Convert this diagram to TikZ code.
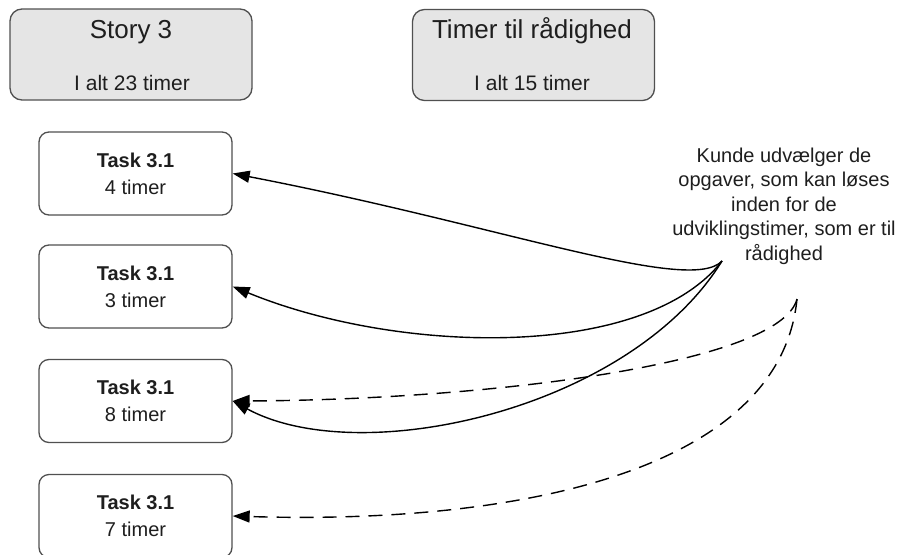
\documentclass[tikz,border=0pt]{standalone}
\usepackage{fontspec}
\setmainfont{Liberation Sans}
\usetikzlibrary{arrows.meta}
\definecolor{headfill}{RGB}{229,229,229}
\definecolor{boxline}{RGB}{80,80,80}
\definecolor{txt}{RGB}{30,30,30}
\begin{document}
\begin{tikzpicture}[x=1pt,y=-1pt,
  headbox/.style={draw=boxline, fill=headfill, line width=1.3pt,
    rounded corners=12pt, minimum width=242pt, minimum height=91pt, inner sep=0pt},
  headtitle/.style={anchor=base, text=txt, font=\fontsize{26}{30}\selectfont, inner sep=0pt},
  headsub/.style={anchor=base, text=txt, font=\fontsize{21}{25}\selectfont, inner sep=0pt},
  taskbox/.style={draw=boxline, fill=white, line width=1.3pt, rounded corners=10pt,
    minimum width=193pt, minimum height=83pt, align=center, text=txt,
    font=\fontsize{20}{27}\selectfont},
  note/.style={align=center, text=txt, font=\fontsize{20}{24.5}\selectfont, inner sep=0pt},
  conn/.style={black, line width=1.4pt, -{Triangle[length=17pt,width=12pt]}},
  dconn/.style={conn, dash pattern=on 14pt off 9pt}
]
\useasboundingbox (0,0) rectangle (907,554);

% header boxes
\node[headbox] (story) at (131,54.5) {};
\node[headtitle] (storyt) at (131,38) {Story 3};
\node[headsub] (storys) at (132,90) {I alt 23 timer};

\node[headbox] (avail) at (533.5,55) {};
\node[headtitle] (availt) at (532,38) {Timer til rådighed};
\node[headsub] (avails) at (532,90) {I alt 15 timer};

% task boxes
\node[taskbox] (t1) at (135.5,173.5) {\textbf{Task 3.1}\\4 timer};
\node[taskbox] (t2) at (135.5,286.5) {\textbf{Task 3.1}\\3 timer};
\node[taskbox] (t3) at (135.5,401) {\textbf{Task 3.1}\\8 timer};
\node[taskbox] (t4) at (135.5,516) {\textbf{Task 3.1}\\7 timer};

% customer note
\node[note] (note) at (784,206) {Kunde udvælger de\\opgaver, som kan løses\\inden for de\\udviklingstimer, som er til\\rådighed};

\coordinate (pick) at (722,261);
\coordinate (skip) at (797,299);

% chosen tasks
\draw[conn] (pick) .. controls (690,295) and (500,225) .. (t1.east);
\draw[conn] (pick) .. controls (645,360) and (400,355) .. (t2.east);
\draw[conn] (pick) .. controls (630,410) and (360,470) .. (t3.east);

% alternative choices
\draw[dconn] (skip) .. controls (780,365) and (480,400) .. (t3.east);
\draw[dconn] (skip) .. controls (780,470) and (520,525) .. (t4.east);
\end{tikzpicture}
\end{document}
